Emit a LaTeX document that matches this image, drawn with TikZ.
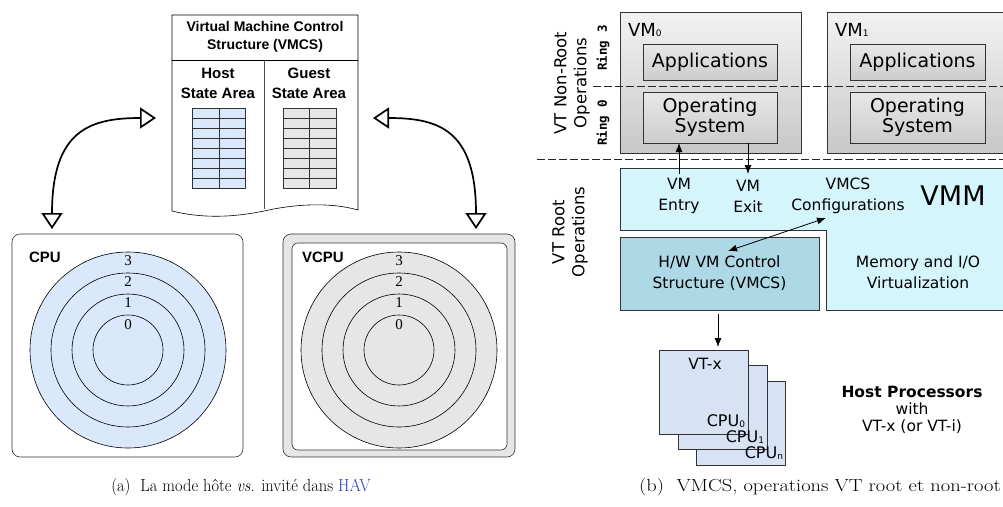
\documentclass[tikz,border=0pt]{standalone}
\usepackage{fontspec}
\usepackage{graphicx}
\newfontfamily\arialf{Liberation Sans}
\newfontfamily\timesf{Liberation Serif}
\newfontfamily\djv{DejaVu Sans}
\newfontfamily\djvmono{DejaVu Sans Mono}
\usetikzlibrary{arrows.meta,calc}
\definecolor{hostblue}{HTML}{DAE8FC}
\definecolor{guestgrey}{HTML}{E6E6E6}
\definecolor{vmmcyan}{HTML}{D5F5FD}
\definecolor{hwblue}{HTML}{ADD9E6}
\definecolor{cpublue}{HTML}{D7E3F4}
\definecolor{bord}{HTML}{333333}
\definecolor{havblue}{HTML}{2B3FBF}
\definecolor{vmtop}{HTML}{F2F2F2}
\definecolor{vmbot}{HTML}{C8C8C8}
\definecolor{aptop}{HTML}{E8E8E8}
\definecolor{apbot}{HTML}{CCCCCC}
\newcommand{\smsub}[1]{\raisebox{-0.5pt}{\fontsize{9}{9}\selectfont #1}}
\begin{document}
\begin{tikzpicture}[x=1pt,y=-1pt,
  every node/.style={inner sep=0pt, outer sep=0pt},
  doctitle/.style={font=\arialf\bfseries\fontsize{14}{18.5}\selectfont, align=center},
  areatxt/.style={font=\arialf\bfseries\fontsize{15}{20}\selectfont, align=center},
  cpulbl/.style={font=\arialf\bfseries\fontsize{15}{18}\selectfont, anchor=west},
  ringnum/.style={font=\timesf\fontsize{15}{18}\selectfont},
  dblarc/.style={line width=1.7pt, {Triangle[open,length=16pt,width=21pt]}-{Triangle[open,length=16pt,width=21pt]}},
  procbox/.style={draw=black!80, rounded corners=8pt, line width=0.6pt},
  vmbox/.style={draw=bord, line width=0.7pt, top color=vmtop, bottom color=vmbot},
  appbox/.style={draw=bord, line width=0.7pt, top color=aptop, bottom color=apbot, font=\djv\fontsize{19}{23}\selectfont, align=center},
  rtxt/.style={font=\djv\fontsize{15.5}{21}\selectfont, align=center},
  vttxt/.style={font=\djv\fontsize{16.5}{20}\selectfont, align=center, rotate=90},
  ringlbl/.style={font=\djvmono\bfseries\fontsize{12.5}{14}\selectfont, rotate=90},
  sarr/.style={-{Latex[length=9pt,width=7pt]}, line width=0.8pt},
  darr/.style={{Latex[length=9pt,width=7pt]}-{Latex[length=9pt,width=7pt]}, line width=0.8pt},
  cpusq/.style={draw=bord, fill=cpublue, line width=0.8pt, minimum width=89pt, minimum height=84pt},
  dsh/.style={dash pattern=on 8pt off 3pt, line width=0.6pt, draw=black!85},
  captxt/.style={font=\fontsize{17.5}{20}\selectfont}
]
\useasboundingbox (0,0) rectangle (1003,506);

% ---------------- (a) -----------------
\draw[line width=0.6pt] (172,15) -- (358,15) -- (358,210)
  .. controls (330,202) and (295,204) .. (264,211)
  .. controls (230,218) and (200,218) .. (172,211) -- cycle;
\draw[line width=0.6pt] (172,60) -- (358,60);
\draw[line width=0.6pt, draw=black!70] (264,60) -- (264,209);
\node[doctitle] (vmcstitle) at (265,37) {Virtual Machine Control\\Structure (VMCS)};
\node[areatxt] (hostarea) at (218,83) {Host\\State Area};
\node[areatxt] (guestarea) at (309,83) {Guest\\State Area};
\draw[fill=hostblue, draw=bord, line width=0.6pt] (192,108) rectangle (245,188);
\draw[fill=guestgrey, draw=bord, line width=0.6pt] (283,108) rectangle (336,188);
\foreach \i in {1,...,7} {
  \draw[draw=bord, line width=0.6pt] (192,108+10*\i) -- (245,108+10*\i);
  \draw[draw=bord, line width=0.6pt] (283,108+10*\i) -- (336,108+10*\i);
}
\draw[draw=bord, line width=0.6pt] (219,108) -- (219,188);
\draw[draw=bord, line width=0.6pt] (309,108) -- (309,188);

\node[procbox, minimum width=231pt, minimum height=223pt] (cpu) at (127.5,345.5) {};
\node[cpulbl] (cpulabel) at (29,257) {CPU};
\foreach \r in {98,77,56,35} {
  \draw[fill=hostblue, line width=0.6pt] (128,350) circle[radius=\r pt];
}
\node[ringnum] (c3) at (128,261) {3};
\node[ringnum] (c2) at (128,282) {2};
\node[ringnum] (c1) at (128,303) {1};
\node[ringnum] (c0) at (128,325) {0};

\node[procbox, fill=guestgrey, minimum width=232pt, minimum height=223pt] (vcpu) at (399,345.5) {};
\node[procbox, fill=white, rounded corners=6pt, minimum width=215pt, minimum height=207pt] (vcpuin) at (399.5,346.5) {};
\node[cpulbl] (vcpulabel) at (302,257) {VCPU};
\foreach \r in {98,77,56,35} {
  \draw[fill=guestgrey, line width=0.6pt] (399,350) circle[radius=\r pt];
}
\node[ringnum] (v3) at (399,261) {3};
\node[ringnum] (v2) at (399,282) {2};
\node[ringnum] (v1) at (399,303) {1};
\node[ringnum] (v0) at (399,325) {0};

\coordinate (docL) at (156,118);
\coordinate (docR) at (373,118);
\coordinate (cpuT) at (52,229);
\coordinate (vcpuT) at (476,229);
\draw[dblarc] (cpuT) .. controls (52,130) and (90,118) .. (docL);
\draw[dblarc] (vcpuT) .. controls (476,130) and (439,118) .. (docR);

% ---------------- (b) -----------------
\node[vttxt] (nonroot) at (572,83) {VT Non-Root\\Operations};
\node[ringlbl] (ring3) at (603,48) {Ring 3};
\node[ringlbl] (ring0) at (603,123) {Ring 0};

\node[vmbox, minimum width=181pt, minimum height=141pt] (vm0) at (710.5,82.5) {};
\node[vmbox, minimum width=181pt, minimum height=141pt] (vm1) at (917.5,82.5) {};
\node[font=\djv\fontsize{18}{20}\selectfont, anchor=west] (vm0l) at (628,30) {VM\smsub{0}};
\node[font=\djv\fontsize{18}{20}\selectfont, anchor=west] (vm1l) at (835,30) {VM\smsub{1}};
\node[appbox, minimum width=134pt, minimum height=36pt] (app0) at (710,62) {Applications};
\node[appbox, minimum width=134pt, minimum height=51pt] (os0) at (710,117.5) {Operating\\[-3pt]System};
\node[appbox, minimum width=135pt, minimum height=36pt] (app1) at (917.5,62) {Applications};
\node[appbox, minimum width=135pt, minimum height=51pt] (os1) at (917.5,117.5) {Operating\\[-3pt]System};

\draw[dsh] (593,86) -- (1003,86);
\draw[dsh] (537,159) -- (1003,159);

\node[vttxt] (root) at (570,232) {VT Root\\Operations};

\draw[draw=bord, fill=vmmcyan, line width=0.8pt] (620,168) -- (1008,168) -- (1008,310) -- (826,310) -- (826,230) -- (620,230) -- cycle;
\node[draw=bord, fill=hwblue, line width=0.8pt, minimum width=199pt, minimum height=73pt] (hw) at (719.5,273.5) {};
\node[rtxt] (hwt) at (719.5,273) {H/W VM Control\\Structure (VMCS)};
\node[rtxt] (entry) at (679,196) {VM\\Entry};
\node[rtxt] (exit) at (748,196) {VM\\Exit};
\node[rtxt] (cfg) at (848,196) {VMCS\\Configurations};
\node[font=\djv\fontsize{27}{30}\selectfont] (vmm) at (953,196) {VMM};
\node[rtxt] (mem) at (918,272) {Memory and I/O\\Virtualization};

\coordinate (entryc) at (679,174);
\coordinate (exitc) at (748,174);
\draw[sarr] (entryc) -- (entryc |- os0.south);
\draw[sarr] (exitc |- os0.south) -- (exitc);
\coordinate (cfgend) at (826,218);
\coordinate (hwend) at (728,251);
\draw[darr] (cfgend) -- (hwend);

\node[cpusq] (cpun) at (741,423) {};
\node[cpusq] (cpu1) at (722.5,407.5) {};
\node[cpusq] (cpu0) at (703.5,392) {};
\node[font=\djv\fontsize{15.5}{18}\selectfont] (vtx) at (705,364) {VT-x};
\node[font=\djv\fontsize{16}{18}\selectfont, anchor=east] (cpu0l) at (745,421) {CPU\smsub{0}};
\node[font=\djv\fontsize{16}{18}\selectfont, anchor=east] (cpu1l) at (764,437) {CPU\smsub{1}};
\node[font=\djv\fontsize{16}{18}\selectfont, anchor=east] (cpunl) at (783,453) {CPU\smsub{n}};
\coordinate (hwbot) at (718,314);
\draw[sarr] (hwbot) -- ($(hwbot |- cpu0.north)+(0,-3)$);
\node[font=\djv\fontsize{15.5}{17}\selectfont, align=center] (hostp) at (912,410) {\textbf{Host Processors}\\with\\VT-x (or VT-i)};

\node[captxt] (capa) at (241,487) {\scalebox{0.94}[1]{(a)\ \ La mode hôte \textit{vs}. invité dans \textcolor{havblue}{HAV}}};
\node[captxt] (capb) at (820,487) {\scalebox{1.17}[1]{(b)\ \ VMCS, operations VT root et non-root}};
\end{tikzpicture}
\end{document}
